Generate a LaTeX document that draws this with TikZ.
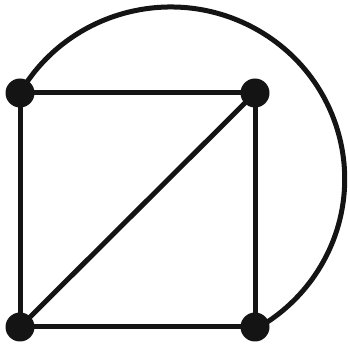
\documentclass[tikz,border=0pt]{standalone}
\usetikzlibrary{backgrounds}
\begin{document}
\begin{tikzpicture}[x=1pt,y=1pt,
  vtx/.style={circle,fill=black!92,inner sep=0pt,minimum size=29pt},
  edge/.style={line width=5pt,draw=black!92}]
\useasboundingbox (0,0) rectangle (348,344);
\node[vtx] (tl) at (20,251) {};
\node[vtx] (tr) at (255,251) {};
\node[vtx] (bl) at (20,17) {};
\node[vtx] (br) at (255,17) {};
\begin{pgfonlayer}{background}
\draw[edge] (tl.center) -- (tr.center) -- (br.center) -- (bl.center) -- cycle;
\draw[edge] (bl.center) -- (tr.center);
\draw[edge] (tl.center) arc[start angle=150, end angle=-60, x radius=174, y radius=172];
\end{pgfonlayer}
\end{tikzpicture}
\end{document}
